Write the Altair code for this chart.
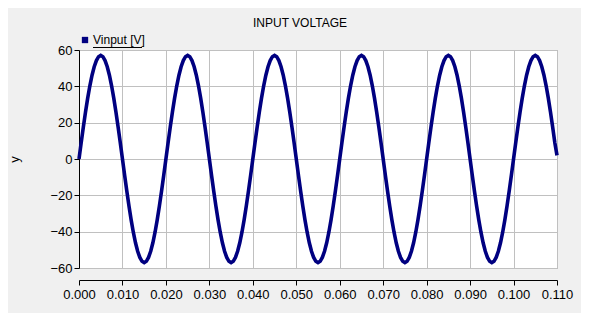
import altair as alt
import pandas as pd

title = "INPUT VOLTAGE"
series_name = "Vinput [V]"
t_step = 0.0005  # seconds between samples

v_input = [
    0, 8.9, 17.6, 25.9, 33.5, 40.3, 46.1, 50.8, 54.2, 56.3, 57, 56.3, 54.2, 50.8, 46.1, 40.3, 33.5, 25.9, 17.6, 8.9,
    0, -8.9, -17.6, -25.9, -33.5, -40.3, -46.1, -50.8, -54.2, -56.3, -57, -56.3, -54.2, -50.8, -46.1, -40.3, -33.5, -25.9, -17.6, -8.9,
    0, 8.9, 17.6, 25.9, 33.5, 40.3, 46.1, 50.8, 54.2, 56.3, 57, 56.3, 54.2, 50.8, 46.1, 40.3, 33.5, 25.9, 17.6, 8.9,
    0, -8.9, -17.6, -25.9, -33.5, -40.3, -46.1, -50.8, -54.2, -56.3, -57, -56.3, -54.2, -50.8, -46.1, -40.3, -33.5, -25.9, -17.6, -8.9,
    0, 8.9, 17.6, 25.9, 33.5, 40.3, 46.1, 50.8, 54.2, 56.3, 57, 56.3, 54.2, 50.8, 46.1, 40.3, 33.5, 25.9, 17.6, 8.9,
    0, -8.9, -17.6, -25.9, -33.5, -40.3, -46.1, -50.8, -54.2, -56.3, -57, -56.3, -54.2, -50.8, -46.1, -40.3, -33.5, -25.9, -17.6, -8.9,
    0, 8.9, 17.6, 25.9, 33.5, 40.3, 46.1, 50.8, 54.2, 56.3, 57, 56.3, 54.2, 50.8, 46.1, 40.3, 33.5, 25.9, 17.6, 8.9,
    0, -8.9, -17.6, -25.9, -33.5, -40.3, -46.1, -50.8, -54.2, -56.3, -57, -56.3, -54.2, -50.8, -46.1, -40.3, -33.5, -25.9, -17.6, -8.9,
    0, 8.9, 17.6, 25.9, 33.5, 40.3, 46.1, 50.8, 54.2, 56.3, 57, 56.3, 54.2, 50.8, 46.1, 40.3, 33.5, 25.9, 17.6, 8.9,
    0, -8.9, -17.6, -25.9, -33.5, -40.3, -46.1, -50.8, -54.2, -56.3, -57, -56.3, -54.2, -50.8, -46.1, -40.3, -33.5, -25.9, -17.6, -8.9,
    0, 8.9, 17.6, 25.9, 33.5, 40.3, 46.1, 50.8, 54.2, 56.3, 57, 56.3, 54.2, 50.8, 46.1, 40.3, 33.5, 25.9, 17.6, 8.9,
    2,
]
x_ticks = [0.000, 0.010, 0.020, 0.030, 0.040, 0.050, 0.060, 0.070, 0.080, 0.090, 0.100, 0.110]
y_ticks = [-60, -40, -20, 0, 20, 40, 60]

t = [round(i * t_step, 5) for i in range(len(v_input))]
df = pd.DataFrame({"t": t, "v": v_input, "series": series_name})

FONT = "Liberation Sans, Arial, sans-serif"
NAVY = "#000080"

x_enc = alt.X(
    "t:Q",
    scale=alt.Scale(domain=[0, 0.110], nice=False, zero=False),
    axis=alt.Axis(
        values=x_ticks, format=".3f", title=None, offset=12,
        grid=True, gridColor="#c0c0c0", gridWidth=1,
        domainColor="#000", tickColor="#000", tickSize=5,
        labelColor="#000", labelFont=FONT, labelFontSize=13, labelPadding=3,
        labelOverlap=False, labelFlush=False,
    ),
)
y_enc = alt.Y(
    "v:Q",
    scale=alt.Scale(domain=[-60, 60], nice=False),
    axis=alt.Axis(
        values=y_ticks, title="y",
        grid=True, gridColor="#c0c0c0", gridWidth=1,
        domainColor="#000", tickColor="#000", tickSize=5,
        labelColor="#000", labelFont=FONT, labelFontSize=13, labelPadding=2,
        labelOverlap=False,
        titleFont=FONT, titleFontSize=13, titleFontWeight="normal", titleColor="#000",
        titleX=-65, titleY=109, titleAngle=-90, titleBaseline="middle", titleAlign="center",
    ),
)

line = alt.Chart(df).mark_line(strokeWidth=3.6, color=NAVY).encode(
    x=x_enc,
    y=y_enc,
    color=alt.Color(
        "series:N",
        scale=alt.Scale(range=[NAVY]),
        legend=alt.Legend(
            title=None, orient="none", legendX=0, legendY=-16,
            symbolType="square", symbolSize=40, symbolFillColor=NAVY,
            symbolStrokeWidth=0, labelFont=FONT, labelFontSize=12,
            labelColor="#000", labelOffset=2,
        ),
    ),
)

underline = alt.Chart(pd.DataFrame({"a": [0]})).mark_rule(color="#000", strokeWidth=1).encode(
    x=alt.value(14), x2=alt.value(63), y=alt.value(-2.5)
)

chart = (
    alt.layer(line, underline)
    .properties(
        width=478,
        height=218,
        title=alt.TitleParams(
            title, font=FONT, fontSize=12, fontWeight="normal", color="#000",
            anchor="middle", dx=-18, dy=29, offset=24, baseline="alphabetic",
        ),
        background="#f0f0f0",
        padding={"left": 71, "top": 42, "right": 24, "bottom": 45},
        autosize=alt.AutoSizeParams(type="none"),
    )
    .configure_view(stroke="#a0a0a0", fill="white", strokeWidth=1)
)

chart.save("out.html", embed_options={"renderer": "svg", "actions": False})
